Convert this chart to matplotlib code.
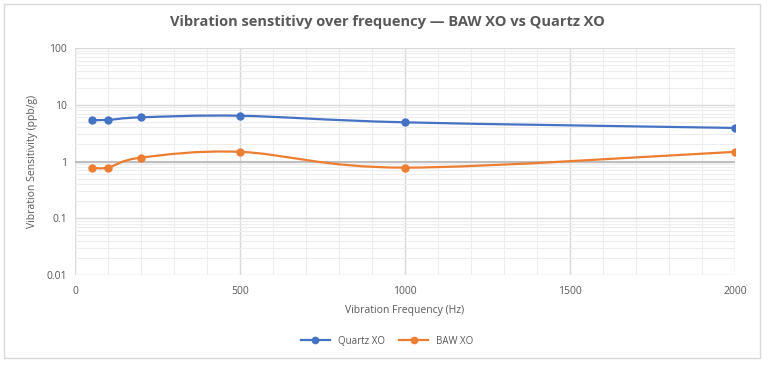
import numpy as np
import matplotlib.pyplot as plt
from matplotlib.path import Path
from matplotlib.patches import PathPatch, Rectangle
from matplotlib.lines import Line2D
from matplotlib.ticker import FixedLocator, NullFormatter

freq = [50, 100, 200, 500, 1000, 2000]
quartz = [5.4, 5.4, 6.0, 6.4, 4.9, 3.9]
baw = [0.78, 0.78, 1.17, 1.48, 0.78, 1.48]
x_ticks = [0, 500, 1000, 1500, 2000]
y_ticks = [0.01, 0.1, 1, 10, 100]
y_labels = ['0.01', '0.1', '1', '10', '100']

blue = '#4472C4'
orange = '#ED7D31'
grey = '#595959'

plt.rcParams['font.family'] = ['Open Sans', 'DejaVu Sans']


def smooth_path(xs, ys):
    # excel style smoothed line: catmull-rom as cubic bezier, in (x, log y)
    px = np.array(xs, float)
    py = np.log10(ys)
    n = len(px)
    verts = [(px[0], ys[0])]
    codes = [Path.MOVETO]
    for i in range(n - 1):
        i0 = max(i - 1, 0)
        i3 = min(i + 2, n - 1)
        c1x = px[i] + (px[i + 1] - px[i0]) / 6
        c1y = py[i] + (py[i + 1] - py[i0]) / 6
        c2x = px[i + 1] - (px[i3] - px[i]) / 6
        c2y = py[i + 1] - (py[i3] - py[i]) / 6
        verts += [(c1x, 10 ** c1y), (c2x, 10 ** c2y), (px[i + 1], ys[i + 1])]
        codes += [Path.CURVE4] * 3
    return Path(verts, codes)


fig = plt.figure(figsize=(7.74, 3.72), dpi=100)
fig.patches.append(Rectangle((4 / 774, 1 - 358 / 372), 756 / 774, 354 / 372,
                             transform=fig.transFigure, fill=False,
                             edgecolor='#D9D9D9', linewidth=1))

ax = fig.add_axes([75 / 774, 1 - 275 / 372, 660 / 774, 227 / 372])
ax.set_yscale('log')
ax.set_xlim(0, 2000)
ax.set_ylim(0.01, 100)

ax.xaxis.set_major_locator(FixedLocator(x_ticks))
ax.xaxis.set_minor_locator(FixedLocator(np.arange(0, 2001, 100)))
ax.yaxis.set_major_locator(FixedLocator(y_ticks))
ax.set_yticklabels(y_labels)
ax.yaxis.set_minor_formatter(NullFormatter())
ax.grid(which='major', color='#D9D9D9', linewidth=1)
ax.grid(which='minor', color='#EDEDED', linewidth=0.8)
ax.set_axisbelow(True)
ax.axhline(1, color='#BFBFBF', linewidth=1.5, zorder=1)

for s in ax.spines.values():
    s.set_visible(False)
ax.tick_params(which='both', length=0, colors=grey, labelsize=7.5)
ax.tick_params(axis='x', pad=8)
ax.tick_params(axis='y', pad=6)

for vals, col in [(quartz, blue), (baw, orange)]:
    ax.add_patch(PathPatch(smooth_path(freq, vals), fill=False,
                           edgecolor=col, linewidth=1.6, zorder=3))
    ax.plot(freq, vals, 'o', color=col, markersize=5, zorder=4)

ax.set_xlabel('Vibration Frequency (Hz)', color=grey, fontsize=7.5, labelpad=6)
ax.set_ylabel('Vibration Sensitivity (ppb/g)', color=grey, fontsize=7.5, labelpad=6)
fig.text(0.5, 1 - 22 / 372, 'Vibration senstitivy over frequency \u2014 BAW XO vs Quartz XO',
         ha='center', va='center', fontsize=10.5, fontweight='bold', color=grey)

handles = [Line2D([], [], color=blue, marker='o', markersize=4.5, linewidth=1.6),
           Line2D([], [], color=orange, marker='o', markersize=4.5, linewidth=1.6)]
fig.legend(handles, ['Quartz XO', 'BAW XO'], loc='center',
           bbox_to_anchor=(0.5, 1 - 341 / 372), ncol=2, frameon=False,
           fontsize=7, labelcolor=grey, handlelength=3, columnspacing=1.5)

fig.savefig('out.png', dpi=100)
